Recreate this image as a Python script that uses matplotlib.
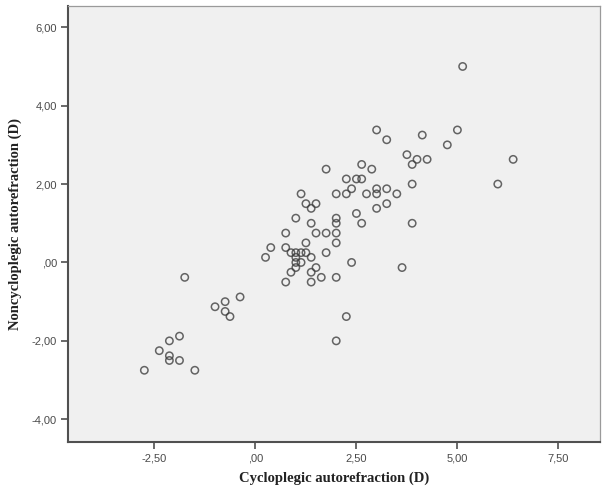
import matplotlib
matplotlib.use("Agg")
import matplotlib.pyplot as plt
from matplotlib.ticker import FuncFormatter, FixedLocator

# Cycloplegic (x) vs noncycloplegic (y) autorefraction, diopters
cyclo = [-2.75, -2.38, -2.13, -2.13, -2.13, -1.88, -1.88, -1.50, -1.75, -1.00,
         -0.75, -0.75, -0.63, -0.38, 0.25, 0.38, 0.75, 0.75, 0.75, 0.88,
         0.88, 1.00, 1.00, 1.00, 1.00, 1.00, 1.13, 1.13, 1.13, 1.25,
         1.25, 1.25, 1.38, 1.38, 1.38, 1.38, 1.38, 1.50, 1.50, 1.50,
         1.63, 1.75, 1.75, 1.75, 2.00, 2.00, 2.00, 2.00, 2.00, 2.00,
         2.00, 2.25, 2.25, 2.25, 2.38, 2.38, 2.50, 2.50, 2.63, 2.63,
         2.63, 2.75, 2.88, 3.00, 3.00, 3.00, 3.00, 3.25, 3.25, 3.25,
         3.50, 3.63, 3.75, 3.88, 3.88, 3.88, 4.00, 4.13, 4.25, 4.75,
         5.00, 5.13, 6.00, 6.38]
noncyclo = [-2.75, -2.25, -2.00, -2.38, -2.50, -2.50, -1.88, -2.75, -0.38, -1.13,
            -1.00, -1.25, -1.38, -0.88, 0.13, 0.38, 0.75, 0.38, -0.50, 0.25,
            -0.25, 0.25, 0.13, 0.00, -0.13, 1.13, 0.25, 0.00, 1.75, 0.25,
            0.50, 1.50, 1.38, 1.00, 0.13, -0.25, -0.50, 1.50, 0.75, -0.13,
            -0.38, 2.38, 0.75, 0.25, 1.75, 1.13, 1.00, 0.75, 0.50, -0.38,
            -2.00, 2.13, 1.75, -1.38, 1.88, 0.00, 2.13, 1.25, 2.50, 2.13,
            1.00, 1.75, 2.38, 3.38, 1.88, 1.75, 1.38, 3.13, 1.88, 1.50,
            1.75, -0.13, 2.75, 2.50, 2.00, 1.00, 2.63, 3.25, 2.63, 3.00,
            3.38, 5.00, 2.00, 2.63]

x_ticks = [-2.5, 0.0, 2.5, 5.0, 7.5]
y_ticks = [-4.0, -2.0, 0.0, 2.0, 4.0, 6.0]
x_label = "Cycloplegic autorefraction (D)"
y_label = "Noncycloplegic autorefraction (D)"


def fmt(v, pos=None):
    s = f"{v:.2f}".replace(".", ",")
    if s.startswith("0,"):
        s = s[1:]
    elif s.startswith("-0,"):
        s = "-" + s[2:]
    return s


fig = plt.figure(figsize=(6.08, 4.90), dpi=100)
fig.patch.set_facecolor("white")
ax = fig.add_axes([68 / 608, 1 - 442 / 490, (600 - 68) / 608, (442 - 5.7) / 490])
ax.set_facecolor("#f0f0f0")

ax.scatter(cyclo, noncyclo, s=28, facecolors="none", edgecolors="#404040",
           linewidths=1.1, alpha=0.8, zorder=3)

ax.set_xlim(-4.64, 8.53)
ax.set_ylim(-4.58, 6.55)
ax.xaxis.set_major_locator(FixedLocator(x_ticks))
ax.yaxis.set_major_locator(FixedLocator(y_ticks))
ax.xaxis.set_major_formatter(FuncFormatter(fmt))
ax.yaxis.set_major_formatter(FuncFormatter(fmt))

for side in ["left", "bottom"]:
    ax.spines[side].set_color("#505050")
    ax.spines[side].set_linewidth(1.5)
for side in ["top", "right"]:
    ax.spines[side].set_color("#9a9a9a")
    ax.spines[side].set_linewidth(0.9)

ax.tick_params(axis="both", direction="out", length=5, width=1.2, color="#505050",
               labelsize=8, labelcolor="#4a4a4a", pad=3)
for lab in ax.get_xticklabels() + ax.get_yticklabels():
    lab.set_family(["Liberation Sans", "DejaVu Sans"])

ax.set_xlabel(x_label, family=["Liberation Serif", "DejaVu Serif"], fontsize=10.5,
              fontweight="bold", color="#222222", labelpad=6)
ax.set_ylabel(y_label, family=["Liberation Serif", "DejaVu Serif"], fontsize=10.5,
              fontweight="bold", color="#222222", labelpad=7)

fig.savefig("out.png", dpi=100, facecolor="white")
